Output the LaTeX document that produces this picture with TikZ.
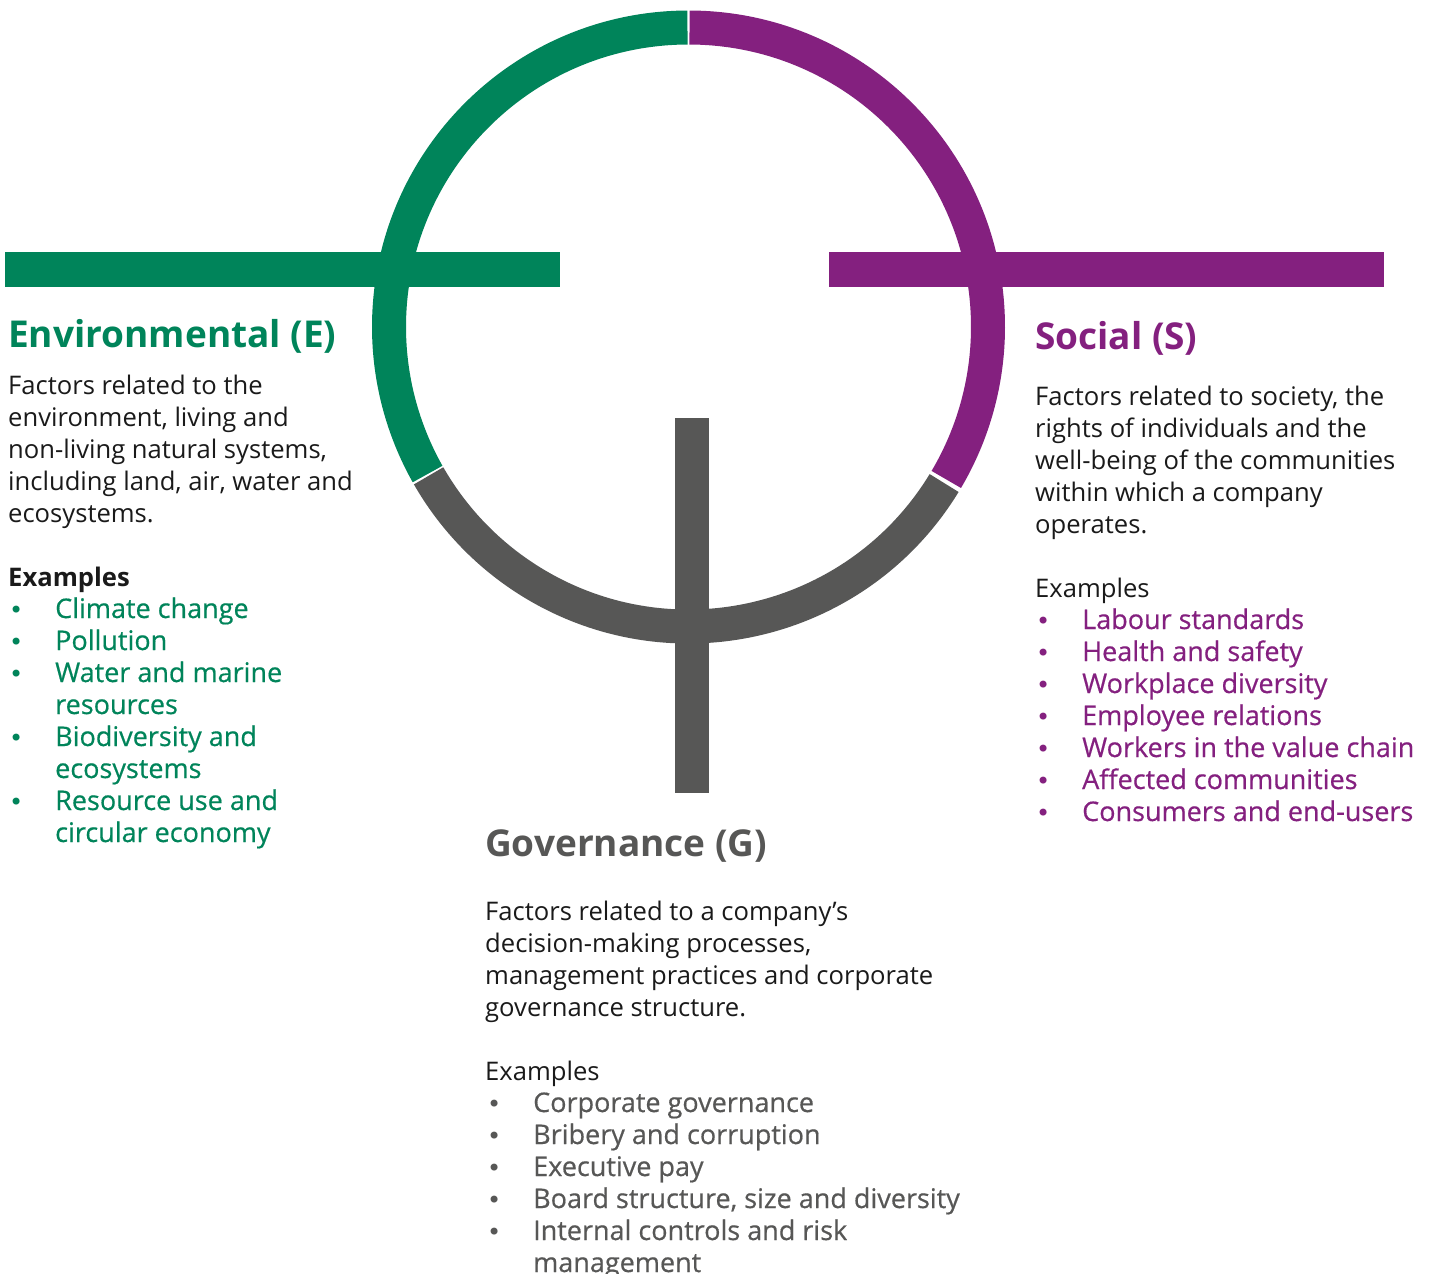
\documentclass[tikz,border=0pt]{standalone}
\usepackage{fontspec}
\setmainfont{Open Sans}
\newfontfamily\medfont{Open Sans}[FakeBold=0.5]
\newfontfamily\bulfont{DejaVu Sans}
\usetikzlibrary{calc}
\definecolor{eg}{HTML}{00845A}
\definecolor{sp}{HTML}{84207F}
\definecolor{gg}{HTML}{575756}
\definecolor{tx}{HTML}{1A1A1A}
\newcommand\rows[1]{\vtop{\baselineskip=32pt\lineskip=0pt\lineskiplimit=-60pt\halign{##\hfil\cr#1\crcr}}}
\newcommand\bul{\llap{\hbox to 46pt{{\bulfont\fontsize{24}{32}\selectfont •}\hfil}}}
\tikzset{
  ring/.style={line width=34pt, line cap=butt},
  head/.style={anchor=base west, inner sep=0pt, font=\fontsize{37}{40}\selectfont\bfseries},
  body/.style={anchor=base west, inner sep=0pt, text=tx, font=\fontsize{25.6}{32}\selectfont},
  items/.style={anchor=base west, inner sep=0pt, font=\fontsize{27}{32}\selectfont\medfont},
}
\begin{document}
\begin{tikzpicture}[x=1pt,y=-1pt]
\useasboundingbox[fill=white] (0,0) rectangle (1433,1274);
\coordinate (c) at (688.5,327);
% ring segments
\draw[ring, eg] (c) ++(-90.2:299.5) arc[start angle=-90.2, end angle=-209.4, radius=299.5];
\draw[ring, sp] (c) ++(-89.8:299.5) arc[start angle=-89.8, end angle=30.6, radius=299.5];
\draw[ring, gg] (c) ++(31.4:299.5) arc[start angle=31.4, end angle=150.2, radius=299.5];
% bars
\fill[eg] (5,252) rectangle (560,287);
\fill[sp] (829,252) rectangle (1384,287);
\fill[gg] (675,418) rectangle (709,793);
% Environmental
\node[head, text=eg] (envH) at (8,347) {Environmental (E)};
\node[body] (envB) at (8,394) {\rows{Factors related to the\cr environment, living and\cr non-living natural systems,\cr including land, air, water and\cr ecosystems.}};
\node[body, font=\fontsize{25.6}{32}\selectfont\bfseries] (envX) at (8,586) {Examples};
\node[items, text=eg] (envL) at (55,618) {\rows{\bul Climate change\cr \bul Pollution\cr \bul Water and marine\cr resources\cr \bul Biodiversity and\cr ecosystems\cr \bul Resource use and\cr circular economy}};
% Social
\node[head, text=sp] (socH) at (1035,349) {Social (S)};
\node[body] (socB) at (1035,405) {\rows{Factors related to society, the\cr rights of individuals and the\cr well-being of the communities\cr within which a company\cr operates.}};
\node[body] (socX) at (1035,597) {Examples};
\node[items, text=sp] (socL) at (1082,629) {\rows{\bul Labour standards\cr \bul Health and safety\cr \bul Workplace diversity\cr \bul Employee relations\cr \bul Workers in the value chain\cr \bul Affected communities\cr \bul Consumers and end-users}};
% Governance
\node[head, text=gg] (govH) at (485,856) {Governance (G)};
\node[body] (govB) at (485,920) {\rows{Factors related to a company’s\cr decision-making processes,\cr management practices and corporate\cr governance structure.}};
\node[body] (govX) at (485,1080) {Examples};
\node[items, text=gg] (govL) at (533,1112) {\rows{\bul Corporate governance\cr \bul Bribery and corruption\cr \bul Executive pay\cr \bul Board structure, size and diversity\cr \bul Internal controls and risk\cr management}};
\end{tikzpicture}
\end{document}
